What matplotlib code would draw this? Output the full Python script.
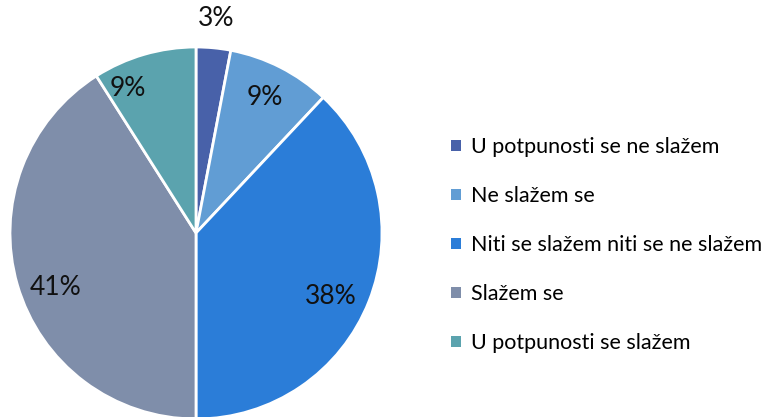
import numpy as np
import matplotlib.pyplot as plt
from matplotlib.patches import Patch

plt.rcParams['font.family'] = ['Lato', 'DejaVu Sans']

labels = ['U potpunosti se ne slažem', 'Ne slažem se',
          'Niti se slažem niti se ne slažem', 'Slažem se',
          'U potpunosti se slažem']
values = [3, 9, 38, 41, 9]
colors = ['#4861A9', '#619DD4', '#2B7DD8', '#7F8EAA', '#5BA3AE']
# percent label placement: distance from centre (fraction of radius)
# and a small angular nudge from the wedge's middle (degrees)
label_dist = [1.16, 0.82, 0.80, 0.81, 0.86]
label_nudge = [0, 0, -3.5, 5, 9]

fig = plt.figure(figsize=(7.7, 4.17), dpi=100)
W, H = 770, 417
cx, cy, r = 196, 233, 186
ax = fig.add_axes([(cx - r) / W, (H - cy - r) / H, 2 * r / W, 2 * r / H])

wedges, _ = ax.pie(values, colors=colors, startangle=90, counterclock=False,
                   radius=1, wedgeprops=dict(edgecolor='white', linewidth=2))
ax.set_aspect('auto')
ax.set_xlim(-1, 1)
ax.set_ylim(-1, 1)
ax.axis('off')

for w, v, d, n in zip(wedges, values, label_dist, label_nudge):
    ang = np.deg2rad((w.theta1 + w.theta2) / 2 + n)
    ax.text(d * np.cos(ang), d * np.sin(ang), f'{v}%', ha='center',
            va='center', fontsize=19, color='#111111', clip_on=False)

handles = [Patch(facecolor=c, edgecolor='none') for c in colors]
fig.legend(handles, labels, loc='center left', bbox_to_anchor=(0.586, 0.412),
           frameon=False, fontsize=15.5, handlelength=0.45, handleheight=0.45,
           handletextpad=0.45, labelspacing=1.35, borderpad=0,
           borderaxespad=0)

fig.savefig('out.png', dpi=100)
